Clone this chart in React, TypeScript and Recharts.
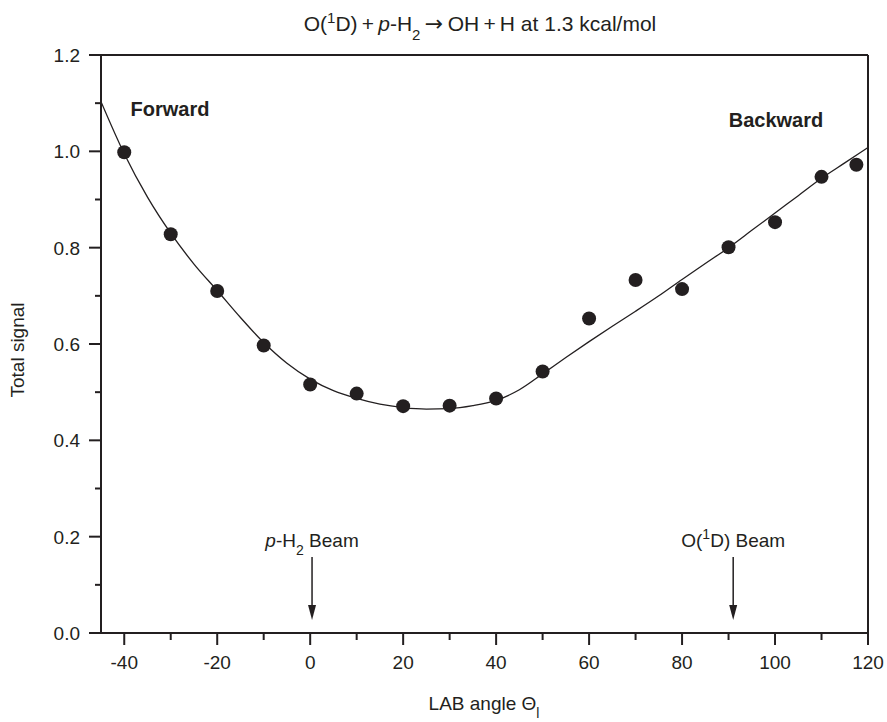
import {
  ComposedChart,
  Line,
  Scatter,
  XAxis,
  YAxis,
  ReferenceLine,
  ReferenceDot,
} from "recharts";

const ink = "#231f20";
const font = "'Liberation Sans', Arial, Helvetica, sans-serif";

// tick positions
const angleTicks = [-40, -30, -20, -10, 0, 10, 20, 30, 40, 50, 60, 70, 80, 90, 100, 110, 120];
const signalTicks = [0, 0.1, 0.2, 0.3, 0.4, 0.5, 0.6, 0.7, 0.8, 0.9, 1.0, 1.1, 1.2];

// measured total signal (dots)
const measuredAngle = [-40, -30, -20, -10, 0, 10, 20, 30, 40, 50, 60, 70, 80, 90, 100, 110, 117.5];
const measuredSignal = [
  0.998, 0.828, 0.71, 0.597, 0.516, 0.497, 0.471, 0.472, 0.487, 0.543, 0.653, 0.733, 0.714,
  0.801, 0.853, 0.947, 0.972,
];

const fitAngle = [
  -45, -40, -35, -30, -25, -20, -15, -10, -5, 0, 5, 10, 15, 20, 25, 30, 35, 40, 45, 50, 55, 60,
  65, 70, 75, 80, 85, 90, 95, 100, 105, 110, 115, 120,
];
const fitSignal = [
  1.103, 0.995, 0.905, 0.83, 0.766, 0.711, 0.655, 0.603, 0.56, 0.527, 0.503, 0.487, 0.475, 0.468,
  0.465, 0.466, 0.472, 0.483, 0.505, 0.538, 0.572, 0.605, 0.637, 0.668, 0.7, 0.734, 0.767, 0.8,
  0.836, 0.872, 0.908, 0.944, 0.976, 1.008,
];

// beam directions
const beamAngle = [0.4, 91];
const beamTop = 0.158;
const beamTip = 0.027;

const measured = measuredAngle.map((angle, i) => ({ angle, signal: measuredSignal[i] }));
const fit = fitAngle.map((angle, i) => ({ angle, signal: fitSignal[i] }));

function AngleTick({ x, y, payload }: any) {
  const v = payload.value;
  const major = v % 20 === 0;
  return (
    <g>
      <line x1={x} x2={x} y1={y} y2={y + (major ? 12 : 7)} stroke={ink} strokeWidth={2} />
      {major && (
        <text x={x} y={y + 36} textAnchor="middle" fontSize={19} fontFamily={font} fill={ink}>
          {v}
        </text>
      )}
    </g>
  );
}

function SignalTick({ x, y, payload }: any) {
  const v = payload.value;
  const major = Math.round(v * 10) % 2 === 0;
  return (
    <g>
      <line x1={x - (major ? 12 : 6)} x2={x} y1={y} y2={y} stroke={ink} strokeWidth={2} />
      {major && (
        <text x={x - 21} y={y + 7} textAnchor="end" fontSize={19} fontFamily={font} fill={ink}>
          {v.toFixed(1)}
        </text>
      )}
    </g>
  );
}

function Dot({ cx, cy }: any) {
  return <circle cx={cx} cy={cy} r={7} fill={ink} />;
}

function ArrowHead({ cx, cy }: any) {
  return <polygon points={`${cx - 4},${cy - 15} ${cx + 4},${cy - 15} ${cx},${cy}`} fill={ink} />;
}

function beamLabel(kind: number) {
  return ({ viewBox }: any) => {
    const cx = viewBox.x + (viewBox.width || 0) / 2;
    const top = viewBox.y - 10;
    return kind === 0 ? (
      <text x={cx} y={top} textAnchor="middle" fontSize={19} fontFamily={font} fill={ink}>
        <tspan fontStyle="italic">p</tspan>-H<tspan baselineShift="sub" fontSize={14}>2</tspan> Beam
      </text>
    ) : (
      <text x={cx} y={top} textAnchor="middle" fontSize={19} fontFamily={font} fill={ink}>
        O(<tspan baselineShift="super" fontSize={14}>1</tspan>D) Beam
      </text>
    );
  };
}

export default function App() {
  return (
    <div style={{ position: "absolute", left: 0, top: 0, background: "#fff" }}>
      <ComposedChart width={887} height={722} margin={{ top: 55, right: 19, bottom: 0, left: 0 }}>
        <XAxis
          type="number"
          dataKey="angle"
          domain={[-45, 120]}
          ticks={angleTicks}
          interval={0}
          tickSize={0}
          tickMargin={0}
          height={89}
          tick={<AngleTick />}
          axisLine={{ stroke: ink, strokeWidth: 2 }}
          allowDataOverflow
        />
        <YAxis
          type="number"
          dataKey="signal"
          domain={[0, 1.2]}
          ticks={signalTicks}
          interval={0}
          tickSize={0}
          tickMargin={0}
          width={101}
          tick={<SignalTick />}
          axisLine={{ stroke: ink, strokeWidth: 2 }}
          allowDataOverflow
        />
        <ReferenceLine y={1.2} stroke={ink} strokeWidth={2} />
        <ReferenceLine x={120} stroke={ink} strokeWidth={2} />
        {beamAngle.map((a, i) => (
          <ReferenceLine
            key={"beam" + i}
            segment={[
              { x: a, y: beamTop },
              { x: a, y: beamTip + 0.02 },
            ]}
            stroke={ink}
            strokeWidth={1.5}
            label={{ position: "top", content: beamLabel(i) }}
          />
        ))}
        {beamAngle.map((a, i) => (
          <ReferenceDot key={"tip" + i} x={a} y={beamTip} shape={<ArrowHead />} />
        ))}
        <Line
          data={fit}
          dataKey="signal"
          type="monotone"
          stroke={ink}
          strokeWidth={1.3}
          dot={false}
          isAnimationActive={false}
        />
        <Scatter data={measured} fill={ink} shape={<Dot />} isAnimationActive={false} />
        <text x={480} y={31} textAnchor="middle" fontSize={21} fontFamily={font} fill={ink}>
          O(<tspan baselineShift="super" fontSize={15}>1</tspan>D)
          {"\u2009+\u2009"}
          <tspan fontStyle="italic">p</tspan>-H
          <tspan baselineShift="sub" fontSize={15}>2</tspan>
          <tspan fontFamily="'DejaVu Sans', sans-serif" fontSize={22}>{"\u2009→\u2009"}</tspan>
          {"OH\u2009+\u2009H at 1.3 kcal/mol"}
        </text>
        <text x={170} y={116} textAnchor="middle" fontSize={20} fontWeight="bold" fontFamily={font} fill={ink}>
          Forward
        </text>
        <text x={776} y={127} textAnchor="middle" fontSize={20} fontWeight="bold" fontFamily={font} fill={ink}>
          Backward
        </text>
        <text x={484} y={710} textAnchor="middle" fontSize={19} fontFamily={font} fill={ink}>
          LAB angle Θ<tspan baselineShift="sub" fontSize={14}>l</tspan>
        </text>
        <text
          x={0}
          y={0}
          transform="translate(24, 350) rotate(-90)"
          textAnchor="middle"
          fontSize={19}
          fontFamily={font}
          fill={ink}
        >
          Total signal
        </text>
      </ComposedChart>
    </div>
  );
}
